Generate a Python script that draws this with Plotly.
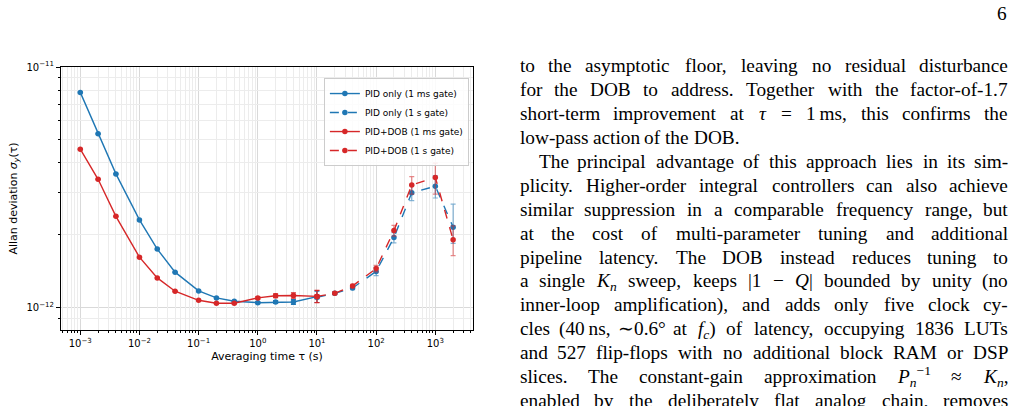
import re
import plotly.graph_objects as go

# ---------------- data ----------------
tau_1ms = [1e-3, 2e-3, 4e-3, 1e-2, 2e-2, 4e-2, 0.1, 0.2, 0.4, 1, 2, 4, 10]
pid_1ms = [7.84e-12, 5.27e-12, 3.59e-12, 2.31e-12, 1.746e-12, 1.40e-12, 1.17e-12,
           1.094e-12, 1.059e-12, 1.045e-12, 1.052e-12, 1.052e-12, 1.107e-12]
pid_1ms_err = [0.02e-12, 0.015e-12, 0.01e-12, 0.006e-12, 0.005e-12, 0.004e-12, 0.004e-12,
               0.004e-12, 0.006e-12, 0.01e-12, 0.015e-12, 0.025e-12, 0.06e-12]
dob_1ms = [4.55e-12, 3.41e-12, 2.39e-12, 1.616e-12, 1.325e-12, 1.166e-12, 1.069e-12,
           1.04e-12, 1.04e-12, 1.094e-12, 1.117e-12, 1.12e-12, 1.11e-12]
dob_1ms_err = [0.015e-12, 0.01e-12, 0.008e-12, 0.005e-12, 0.004e-12, 0.004e-12, 0.003e-12,
               0.004e-12, 0.006e-12, 0.012e-12, 0.02e-12, 0.028e-12, 0.065e-12]

tau_1s = [10, 20, 40, 100, 200, 400, 1000, 2000]
pid_1s = [1.10e-12, 1.143e-12, 1.203e-12, 1.41e-12, 1.95e-12, 3.00e-12, 3.19e-12, 2.155e-12]
pid_1s_err_plus = [0.02e-12, 0.015e-12, 0.02e-12, 0.055e-12, 0.095e-12, 0.22e-12, 0.34e-12, 0.53e-12]
pid_1s_err_minus = [0.02e-12, 0.015e-12, 0.02e-12, 0.055e-12, 0.095e-12, 0.22e-12, 0.34e-12, 0.31e-12]
dob_1s = [1.11e-12, 1.143e-12, 1.227e-12, 1.449e-12, 2.085e-12, 3.23e-12, 3.47e-12, 1.91e-12]
dob_1s_err = [0.02e-12, 0.015e-12, 0.02e-12, 0.046e-12, 0.107e-12, 0.27e-12, 0.51e-12, 0.27e-12]

x_major = [1e-3, 1e-2, 1e-1, 1, 10, 100, 1000]
x_major_text = ["10<sup>−3</sup>", "10<sup>−2</sup>", "10<sup>−1</sup>", "10<sup>0</sup>",
                "10<sup>1</sup>", "10<sup>2</sup>", "10<sup>3</sup>"]
y_major = [1e-12, 1e-11]
y_major_text = ["10<sup>−12</sup>", "10<sup>−11</sup>"]

legend_names = ["PID only (1 ms gate)", "PID only (1 s gate)",
                "PID+DOB (1 ms gate)", "PID+DOB (1 s gate)"]

# (text, paragraph-first-line, paragraph-last-line)
page_lines = [
    ("to the asymptotic floor, leaving no residual disturbance", False, False),
    ("for the DOB to address. Together with the factor-of-1.7", False, False),
    ("short-term improvement at <i>τ</i> = 1\u2009ms, this confirms the", False, False),
    ("low-pass action of the DOB.", False, True),
    ("The principal advantage of this approach lies in its sim-", True, False),
    ("plicity. Higher-order integral controllers can also achieve", False, False),
    ("similar suppression in a comparable frequency range, but", False, False),
    ("at the cost of multi-parameter tuning and additional", False, False),
    ("pipeline latency. The DOB instead reduces tuning to", False, False),
    ("a single <i>K<sub>n</sub></i> sweep, keeps |1 − <i>Q</i>| bounded by unity (no", False, False),
    ("inner-loop amplification), and adds only five clock cy-", False, False),
    ("cles (40\u2009ns, ∼0.6° at <i>f<sub>c</sub></i>) of latency, occupying 1836 LUTs", False, False),
    ("and 527 flip-flops with no additional block RAM or DSP", False, False),
    ("slices. The constant-gain approximation <i>P</i><sub><i>n</i></sub><sup>−1</sup> ≈ <i>K<sub>n</sub></i>,", False, False),
    ("enabled by the deliberately flat analog chain, removes", False, False),
]

# ---------------- styling ----------------
BLUE = "#1f77b4"
RED = "#d62728"
BLUE_E = "rgba(31,119,180,0.55)"
RED_E = "rgba(214,39,40,0.55)"

fig = go.Figure()

def add(x, y, ep, em, name, color, ecolor, dash):
    fig.add_trace(go.Scatter(
        x=x, y=y, name=name, mode="lines+markers",
        line=dict(color=color, width=1.4, dash=dash),
        marker=dict(color=color, size=5.5, symbol="circle"),
        error_y=dict(type="data", array=ep, arrayminus=em, symmetric=False,
                     color=ecolor, thickness=1.2, width=2.5),
    ))

add(tau_1ms, pid_1ms, pid_1ms_err, pid_1ms_err, legend_names[0], BLUE, BLUE, "solid")
add(tau_1s, pid_1s, pid_1s_err_plus, pid_1s_err_minus, legend_names[1], BLUE, BLUE_E, "dash")
add(tau_1ms, dob_1ms, dob_1ms_err, dob_1ms_err, legend_names[2], RED, RED, "solid")
add(tau_1s, dob_1s, dob_1s_err, dob_1s_err, legend_names[3], RED, RED_E, "dash")

# minor tick positions (2..9 per decade)
x_minor = [m * 10 ** e for e in range(-4, 4) for m in range(2, 10)]
y_minor = [m * 10 ** e for e in (-13, -12) for m in range(2, 10)]

fig.add_trace(go.Scatter(x=[1], y=[2e-12], xaxis="x2", yaxis="y2", mode="markers",
                         marker=dict(opacity=0), showlegend=False, hoverinfo="skip"))

L, R, T, B = 61, 1015 - 473, 67, 406 - 330
PW, PH = 1015 - L - R, 406 - T - B
xr = [-3.326, 3.637]
yr = [-12.0946, -11.0]

fig.update_layout(
    width=1015, height=406,
    margin=dict(l=L, r=R, t=T, b=B),
    paper_bgcolor="white", plot_bgcolor="white",
    font=dict(family="DejaVu Sans", color="black", size=10),
    showlegend=True,
    legend=dict(x=0.99, y=0.958, xanchor="right", yanchor="top",
                bgcolor="rgba(255,255,255,0.85)", bordercolor="#cccccc", borderwidth=1,
                font=dict(size=9, family="DejaVu Sans"), tracegroupgap=0, itemwidth=30),
    xaxis=dict(type="log", range=xr, tickvals=x_major, ticktext=x_major_text,
               showgrid=True, gridcolor="#d9d9d9", gridwidth=0.8,
               ticks="outside", ticklen=4, tickwidth=1, tickcolor="black",
               showline=True, linecolor="black", linewidth=1, mirror=True,
               zeroline=False, tickfont=dict(size=10),
               title=dict(text="Averaging time τ (s)", font=dict(size=11), standoff=4)),
    yaxis=dict(type="log", range=yr, tickvals=y_major, ticktext=y_major_text,
               showgrid=True, gridcolor="#d9d9d9", gridwidth=0.8,
               ticks="outside", ticklen=4, tickwidth=1, tickcolor="black",
               showline=True, linecolor="black", linewidth=1, mirror=True,
               zeroline=False, tickfont=dict(size=10),
               title=dict(text="Allan deviation <i>σ<sub>y</sub></i>(τ)", font=dict(size=11), standoff=6)),
    xaxis2=dict(type="log", range=xr, overlaying="x", tickvals=x_minor, showticklabels=False,
                showgrid=True, gridcolor="#ececec", gridwidth=0.6,
                ticks="outside", ticklen=2, tickcolor="black", zeroline=False),
    yaxis2=dict(type="log", range=yr, overlaying="y", tickvals=y_minor, showticklabels=False,
                showgrid=True, gridcolor="#ececec", gridwidth=0.6,
                ticks="outside", ticklen=2, tickcolor="black", zeroline=False),
)

# ---------------- justified page text ----------------
# Times / Liberation Serif advance widths (per 1000 em)
TW = {' ': 250, 'a': 444, 'b': 500, 'c': 444, 'd': 500, 'e': 444, 'f': 333, 'g': 500, 'h': 500,
      'i': 278, 'j': 278, 'k': 500, 'l': 278, 'm': 778, 'n': 500, 'o': 500, 'p': 500, 'q': 500,
      'r': 333, 's': 389, 't': 278, 'u': 500, 'v': 500, 'w': 722, 'x': 500, 'y': 500, 'z': 444,
      'A': 722, 'B': 667, 'C': 667, 'D': 722, 'E': 611, 'F': 556, 'G': 722, 'H': 722, 'I': 333,
      'J': 389, 'K': 722, 'L': 611, 'M': 889, 'N': 722, 'O': 722, 'P': 556, 'Q': 722, 'R': 667,
      'S': 556, 'T': 611, 'U': 722, 'V': 722, 'W': 944, 'X': 722, 'Y': 722, 'Z': 611,
      ',': 250, '.': 250, '-': 333, '(': 333, ')': 333, '|': 200, '°': 400, '=': 564,
      '−': 564, '≈': 549, '∼': 541, ':': 278, '\u2009': 170, 'τ': 440}
for d in "0123456789":
    TW[d] = 500

FS = 19.3
LEFT, RIGHT = 519, 1009
INDENT = 19
Y0, DY = 65.0, 23.9

def width(html, S):
    w = 0.0
    depth = 0
    for tok in re.split(r"(<[^>]+>)", html):
        if tok.startswith("<"):
            name = tok.strip("</> ").lower()
            if name in ("sub", "sup"):
                depth += -1 if tok.startswith("</") else 1
            continue
        for ch in tok:
            w += TW.get(ch, 500) / 1000.0 * S * (0.7 if depth else 1.0)
    return w

anns = []
for i, (txt, first, last) in enumerate(page_lines):
    words = txt.split(" ")
    ws = [width(w, FS) for w in words]
    left = LEFT + (INDENT if first else 0)
    if last or len(words) == 1:
        gap = TW[' '] / 1000.0 * FS
    else:
        gap = (RIGHT - left - sum(ws)) / (len(words) - 1)
    ymid = Y0 + i * DY
    ytop = ymid - 0.553 * FS
    xpos = left
    for j, (w, wd) in enumerate(zip(words, ws)):
        if j == len(words) - 1 and not last and len(words) > 1:
            xa, xv = "right", RIGHT
        elif j == 0:
            xa, xv = "left", xpos
        else:
            xa, xv = "center", xpos + wd / 2
        anns.append(dict(xref="paper", yref="paper", x=(xv - L) / PW,
                         y=(406 - B - ytop) / PH, xanchor=xa, yanchor="top",
                         text=w, showarrow=False, borderpad=0,
                         yshift=(0.153 * FS if "<sup>" in w else 0),
                         font=dict(family="Liberation Serif", size=FS, color="black")))
        xpos += wd + gap

anns.append(dict(xref="paper", yref="paper", x=(1009 - L) / PW,
                 y=(406 - B - 13) / PH, xanchor="right", yanchor="middle",
                 text="6", showarrow=False,
                 font=dict(family="Liberation Serif", size=FS, color="black")))
fig.update_layout(annotations=anns)

fig.write_html("out.html")
